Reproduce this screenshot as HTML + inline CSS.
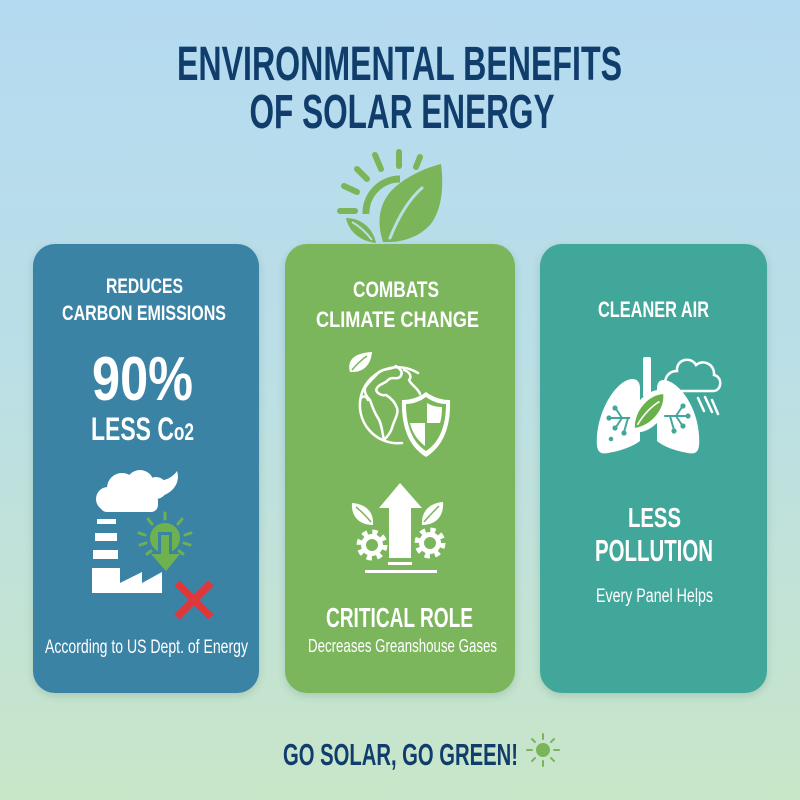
<!DOCTYPE html>
<html>
<head>
<meta charset="utf-8">
<style>
  html,body{margin:0;padding:0;width:800px;height:800px;overflow:hidden;}
  svg{display:block;}
  .h{font-family:"Liberation Sans Narrow","Liberation Sans",sans-serif;font-weight:bold;fill:#fff;}
  .b{font-family:"Liberation Sans Narrow","Liberation Sans",sans-serif;font-weight:normal;fill:#fff;}
  .t{font-family:"Liberation Sans Narrow","Liberation Sans",sans-serif;font-weight:bold;fill:#113d6c;}
</style>
</head>
<body>
<svg width="800" height="800" viewBox="0 0 800 800" xmlns="http://www.w3.org/2000/svg">
  <defs>
    <linearGradient id="bg" x1="0" y1="0" x2="0" y2="1">
      <stop offset="0" stop-color="#b4daf1"/>
      <stop offset="0.45" stop-color="#bbdfe6"/>
      <stop offset="1" stop-color="#c8e6c8"/>
    </linearGradient>
    <filter id="sh" x="-10%" y="-10%" width="120%" height="120%">
      <feDropShadow dx="0" dy="3" stdDeviation="4" flood-color="#2a4a40" flood-opacity="0.18"/>
    </filter>
  </defs>
  <rect width="800" height="800" fill="url(#bg)"/>

  <!-- Title -->
  <text class="t" x="399.5" y="80" font-size="48" text-anchor="middle" textLength="445" lengthAdjust="spacingAndGlyphs">ENVIRONMENTAL BENEFITS</text>
  <text class="t" x="402" y="128" font-size="48" text-anchor="middle" textLength="305" lengthAdjust="spacingAndGlyphs">OF SOLAR ENERGY</text>

  <!-- Top sun + leaf icon -->
  <g fill="none" stroke="#7ab55a" stroke-width="6" stroke-linecap="round">
    <line x1="340" y1="211" x2="355" y2="211"/>
    <line x1="344" y1="186" x2="357" y2="192"/>
    <line x1="357" y1="169" x2="367" y2="179"/>
    <line x1="375" y1="155" x2="381" y2="169"/>
    <line x1="399" y1="152" x2="399" y2="166"/>
    <line x1="420" y1="157" x2="416" y2="167"/>
    <path d="M366,214 A34,34 0 0 1 400,179" stroke-width="7" stroke-linecap="butt"/>
  </g>
  <path d="M383,242 C377,224 378,205 392,190 C405,177 425,168 441,164 C444,186 442,210 430,225 C418,238 400,243 383,242 Z" fill="#7ab55a"/>
  <path d="M390,238 C398,218 408,200 422,188" fill="none" stroke="#b9dfe4" stroke-width="3" stroke-linecap="round"/>
  <path d="M376,243 C360,241 349,232 346,218 C361,218 373,228 376,243 Z" fill="#7ab55a"/>
  <path d="M372,240 C366,232 359,226 352,222" fill="none" stroke="#b9dfe4" stroke-width="2"/>

  <!-- Cards -->
  <rect x="33" y="244" width="226" height="449" rx="22" fill="#3b83a5" filter="url(#sh)"/>
  <rect x="285" y="244" width="230" height="449" rx="22" fill="#7bb65b" filter="url(#sh)"/>
  <rect x="540" y="244" width="227" height="449" rx="22" fill="#43a79b" filter="url(#sh)"/>

  <!-- Card 1 text -->
  <text class="h" x="144.5" y="293" font-size="21" text-anchor="middle" textLength="77" lengthAdjust="spacingAndGlyphs">REDUCES</text>
  <text class="h" x="144" y="320" font-size="21" text-anchor="middle" textLength="164" lengthAdjust="spacingAndGlyphs">CARBON EMISSIONS</text>
  <text class="h" x="142.5" y="400" font-size="62" text-anchor="middle" textLength="101" lengthAdjust="spacingAndGlyphs">90%</text>
  <text class="h" x="142.5" y="440" font-size="32" text-anchor="middle" textLength="103" lengthAdjust="spacingAndGlyphs">LESS C<tspan font-size="24">o2</tspan></text>
  <text class="b" x="146.5" y="653" font-size="19" text-anchor="middle" textLength="203" lengthAdjust="spacingAndGlyphs">According to US Dept. of Energy</text>

  <!-- Factory icon -->
  <g fill="#fff">
    <circle cx="108" cy="499" r="12"/>
    <circle cx="122" cy="488" r="15"/>
    <circle cx="140" cy="484" r="14"/>
    <circle cx="156" cy="488" r="11"/>
    <rect x="100" y="494" width="58" height="18" rx="7"/>
    <path d="M150,480 C160,483 172,479 177,471 C181,483 172,495 157,497 Z"/>
    <rect x="97" y="519" width="19" height="5"/>
    <rect x="95" y="533" width="22" height="8"/>
    <rect x="93" y="550" width="25" height="9"/>
    <polygon points="92,593 92,568 120,568 120,583 142,572 142,583 162,572 162,593"/>
  </g>
  <!-- green bulb with down arrow -->
  <g stroke="#6db24f" stroke-width="3" stroke-linecap="round" fill="none">
    <line x1="165" y1="513" x2="165" y2="519"/>
    <line x1="148" y1="519" x2="152" y2="524"/>
    <line x1="182" y1="519" x2="178" y2="524"/>
    <line x1="139" y1="533" x2="145" y2="535"/>
    <line x1="191" y1="533" x2="185" y2="535"/>
    <line x1="140" y1="545" x2="146" y2="543"/>
    <line x1="190" y1="545" x2="184" y2="543"/>
    <line x1="147" y1="554" x2="151" y2="551"/>
    <line x1="183" y1="554" x2="179" y2="551"/>
  </g>
  <circle cx="165" cy="538" r="15" fill="#6db24f"/>
  <rect x="158" y="532" width="14" height="22" fill="#3b83a5"/>
  <rect x="161" y="535" width="8" height="20" fill="#6db24f"/>
  <polygon points="151,554 180,554 166,571" fill="#6db24f"/>
  <!-- red X -->
  <g stroke="#e0373a" stroke-width="7.5">
    <line x1="177" y1="583" x2="211" y2="617"/>
    <line x1="211" y1="583" x2="177" y2="617"/>
  </g>

  <!-- Card 2 text -->
  <text class="h" x="396" y="297" font-size="22" text-anchor="middle" textLength="86" lengthAdjust="spacingAndGlyphs">COMBATS</text>
  <text class="h" x="397.5" y="327" font-size="22" text-anchor="middle" textLength="163" lengthAdjust="spacingAndGlyphs">CLIMATE CHANGE</text>
  <text class="h" x="399.5" y="627" font-size="28" text-anchor="middle" textLength="147" lengthAdjust="spacingAndGlyphs">CRITICAL ROLE</text>
  <text class="b" x="402.5" y="652" font-size="18" text-anchor="middle" textLength="189" lengthAdjust="spacingAndGlyphs">Decreases Greanshouse Gases</text>

  <!-- Globe icon -->
  <g fill="none" stroke="#fff" stroke-width="2.5" stroke-linejoin="round" stroke-linecap="round">
    <path d="M418,373 A38,38 0 1 0 402,443"/>
    <path d="M379,372 C384,368 392,370 396,366 C400,369 404,372 400,377 C396,380 392,376 388,380 C385,384 380,383 377,388 C374,392 381,396 386,395 C391,398 395,402 397,408 C399,414 394,420 392,428 C390,434 386,438 384,440 C382,432 382,424 378,418 C374,412 372,406 370,400 C366,396 364,392 365,388 C368,382 374,378 379,372 Z"/>
    <path d="M404,370 C410,372 412,377 409,380 C412,386 418,388 420,394"/>
    <path d="M361,398 C364,395 367,397 368,400"/>
  </g>
  <!-- small leaf above globe -->
  <path d="M350,372 C347,362 352,353 372,352 C371,364 364,373 350,372 Z" fill="#fff"/>
  <path d="M352,370 C357,364 361,360 367,356" fill="none" stroke="#7bb65b" stroke-width="1.5"/>
  <!-- Shield -->
  <path d="M426,392 C434,398 442,400 450,400 C451,425 444,446 426,457 C408,446 401,425 402,400 C410,400 418,398 426,392 Z" fill="#fff"/>
  <path d="M426,397 C433,402 440,404 446,404 C446,425 440,442 426,451 C412,442 406,425 406,404 C412,404 419,402 426,397 Z" fill="#7bb65b"/>
  <path d="M427,403 C432,406 437,407 442,407 C442,415 441,420 440,423 L427,423 Z" fill="#fff"/>
  <path d="M425,423 L410,423 C412,432 417,440 425,446 Z" fill="#fff"/>

  <!-- Arrow + gears icon -->
  <g fill="#fff">
    <polygon points="400,483 422,508 411,508 411,558 389,558 389,508 379,508"/>
    <rect x="388" y="562" width="24" height="3"/>
    <rect x="365" y="570" width="72" height="3"/>
  </g>
  <g fill="none" stroke="#fff">
    <circle cx="372" cy="545" r="13" stroke-width="5" stroke-dasharray="5.2 5"/>
    <circle cx="372" cy="545" r="8.5" stroke-width="5"/>
    <circle cx="430" cy="543" r="13" stroke-width="5" stroke-dasharray="5.2 5"/>
    <circle cx="430" cy="543" r="8.5" stroke-width="5"/>
  </g>
  <path d="M373,525 C358,525 351,515 352,503 C366,504 374,512 373,525 Z" fill="#fff"/>
  <path d="M371,522 C366,516 361,511 356,507" stroke="#7bb65b" stroke-width="1.5" fill="none"/>
  <path d="M422,525 C437,525 444,515 443,502 C429,503 421,512 422,525 Z" fill="#fff"/>
  <path d="M424,522 C429,516 434,511 439,506" stroke="#7bb65b" stroke-width="1.5" fill="none"/>

  <!-- Card 3 text -->
  <text class="h" x="653.5" y="317" font-size="22" text-anchor="middle" textLength="111" lengthAdjust="spacingAndGlyphs">CLEANER AIR</text>
  <text class="h" x="654.5" y="527" font-size="28" text-anchor="middle" textLength="53" lengthAdjust="spacingAndGlyphs">LESS</text>
  <text class="h" x="654" y="561" font-size="31" text-anchor="middle" textLength="118" lengthAdjust="spacingAndGlyphs">POLLUTION</text>
  <text class="b" x="654.5" y="602" font-size="19" text-anchor="middle" textLength="117" lengthAdjust="spacingAndGlyphs">Every Panel Helps</text>

  <!-- Lungs icon -->
  <g fill="#fff">
    <rect x="643" y="357" width="8" height="40" rx="2"/>
    <path d="M632,379 C618,380 600,405 597,435 C596,450 598,455 608,453 C620,451 632,447 640,441 L640,388 C640,382 637,379 632,379 Z"/>
    <path d="M664,380 C678,381 697,405 699,435 C700,450 698,455 688,453 C676,451 664,447 657,441 L657,389 C657,383 659,380 664,380 Z"/>
  </g>
  <g stroke="#43a79b" stroke-width="2" fill="#43a79b" stroke-linecap="round">
    <line x1="609" y1="418" x2="632" y2="418"/>
    <line x1="622" y1="418" x2="616" y2="409"/>
    <line x1="622" y1="418" x2="616" y2="427"/>
    <line x1="628" y1="418" x2="624" y2="432"/>
    <circle cx="609" cy="418" r="1.6"/>
    <circle cx="615" cy="408" r="1.6"/>
    <circle cx="615" cy="428" r="1.6"/>
    <circle cx="624" cy="433" r="1.6"/>
    <circle cx="611" cy="439" r="1.3"/>
    <line x1="665" y1="416" x2="688" y2="416"/>
    <line x1="676" y1="416" x2="682" y2="407"/>
    <line x1="676" y1="416" x2="682" y2="425"/>
    <line x1="670" y1="416" x2="674" y2="430"/>
    <circle cx="688" cy="416" r="1.6"/>
    <circle cx="683" cy="406" r="1.6"/>
    <circle cx="683" cy="426" r="1.6"/>
    <circle cx="674" cy="431" r="1.6"/>
  </g>
  <!-- leaf in lungs -->
  <g transform="translate(649,411) rotate(40)">
    <ellipse cx="0" cy="0" rx="14" ry="25" fill="#fff"/>
    <path d="M0,-22 C11,-12 11,10 0,22 C-11,10 -11,-12 0,-22 Z" fill="#6ab04c"/>
    <path d="M0,18 C-2,6 -1,-6 2,-14" stroke="#fff" stroke-width="1.6" fill="none"/>
  </g>
  <!-- cloud -->
  <path d="M667,391 L713,391 C722,391 723,377 714,375 C715,364 703,359 696,365 C691,356 676,359 677,371 C667,371 662,381 667,391 Z" fill="none" stroke="#fff" stroke-width="2.5"/>
  <g stroke="#fff" stroke-width="2.5" stroke-linecap="round">
    <line x1="698" y1="398" x2="704" y2="411"/>
    <line x1="705" y1="397" x2="712" y2="412"/>
    <line x1="712" y1="400" x2="718" y2="414"/>
  </g>

  <!-- Footer -->
  <text class="t" x="400.5" y="765" font-size="31" text-anchor="middle" textLength="235" lengthAdjust="spacingAndGlyphs">GO SOLAR, GO GREEN!</text>
  <g stroke="#7ab55a" stroke-width="2" stroke-linecap="round">
    <line x1="543" y1="734" x2="543" y2="739"/>
    <line x1="543" y1="761" x2="543" y2="766"/>
    <line x1="527" y1="750" x2="532" y2="750"/>
    <line x1="554" y1="750" x2="559" y2="750"/>
    <line x1="532" y1="739" x2="535" y2="742"/>
    <line x1="554" y1="739" x2="551" y2="742"/>
    <line x1="532" y1="761" x2="535" y2="758"/>
    <line x1="554" y1="761" x2="551" y2="758"/>
  </g>
  <circle cx="543" cy="750" r="7" fill="#7ab55a"/>
</svg>
</body>
</html>
